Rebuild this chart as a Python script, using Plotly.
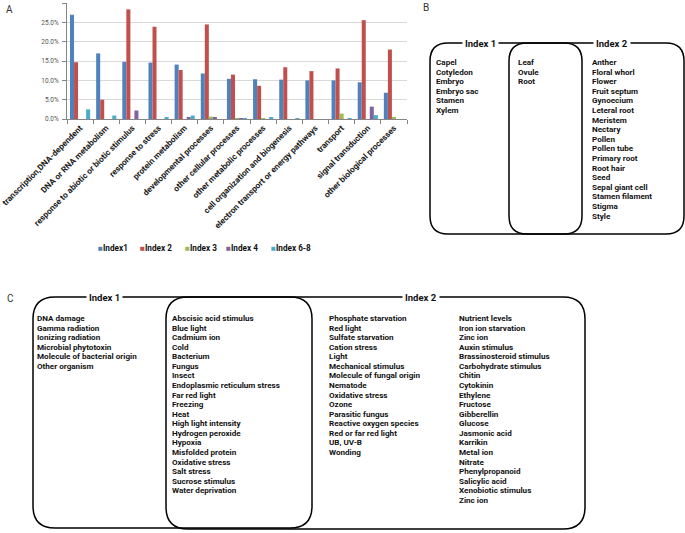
import plotly.graph_objects as go

W, H = 685, 533

categories = ["transcription,DNA-dependent", "DNA or RNA metabolism",
              "response to abiotic or biotic stimulus", "response to stress",
              "protein metabolism", "developmental processes", "other cellular processes",
              "other metabolic processes", "cell organization and biogenesis",
              "electron transport or energy pathways", "transport", "signal transduction",
              "other biological processes"]
series_names = ["Index1", "Index 2", "Index 3", "Index 4", "Index 6-8"]
index1 = [27.0, 17.0, 14.8, 14.6, 14.1, 11.8, 10.4, 10.3, 10.2, 10.0, 10.0, 9.5, 6.8]
index2 = [14.7, 5.0, 28.4, 23.9, 12.7, 24.5, 11.5, 8.6, 13.4, 12.4, 13.1, 25.6, 18.0]
index3 = [0.0, 0.0, 0.0, 0.0, 0.0, 0.6, 0.2, 0.2, 0.0, 0.0, 1.4, 0.0, 0.3]
index4 = [0.0, 0.0, 2.2, 0.0, 0.4, 0.3, 0.1, 0.0, 0.0, 0.0, 0.0, 3.2, 0.0]
index68 = [2.5, 0.9, 0.0, 0.5, 0.9, 0.0, 0.2, 0.3, 0.2, 0.0, 0.2, 1.0, 0.0]
colors = ["#4F81BD", "#C0504D", "#9BBB59", "#8064A2", "#4BACC6"]

b_index1_only = ["Capel", "Cotyledon", "Embryo", "Embryo sac", "Stamen", "Xylem"]
b_both = ["Leaf", "Ovule", "Root"]
b_index2_only = ["Anther", "Floral whorl", "Flower", "Fruit septum", "Gynoecium", "Leteral root",
                 "Meristem", "Nectary", "Pollen", "Pollen tube", "Primary root", "Root hair",
                 "Seed", "Sepal giant cell", "Stamen filament", "Stigma", "Style"]

c_index1_only = ["DNA damage", "Gamma radiation", "Ionizing radiation", "Microbial phytotoxin",
                 "Molecule of bacterial origin", "Other organism"]
c_both = ["Abscisic acid stimulus", "Blue light", "Cadmium ion", "Cold", "Bacterium", "Fungus",
          "Insect", "Endoplasmic reticulum stress", "Far red light", "Freezing", "Heat",
          "High light intensity", "Hydrogen peroxide", "Hypoxia", "Misfolded protein",
          "Oxidative stress", "Salt stress", "Sucrose stimulus", "Water deprivation"]
c_index2_a = ["Phosphate starvation", "Red light", "Sulfate starvation", "Cation stress", "Light",
              "Mechanical stimulus", "Molecule of fungal origin", "Nematode", "Oxidative stress",
              "Ozone", "Parasitic fungus", "Reactive oxygen species", "Red or far red light",
              "UB, UV-B", "Wonding"]
c_index2_b = ["Nutrient levels", "Iron ion starvation", "Zinc ion", "Auxin stimulus",
              "Brassinosteroid stimulus", "Carbohydrate stimulus", "Chitin", "Cytokinin",
              "Ethylene", "Fructose", "Gibberellin", "Glucose", "Jasmonic acid", "Karrikin",
              "Metal ion", "Nitrate", "Phenylpropanoid", "Salicylic acid", "Xenobiotic stimulus",
              "Zinc ion"]

FONT = "Roboto"


def px(x):
    return x / W


def py(y):
    return 1 - y / H


fig = go.Figure()
for name, vals, col in zip(series_names, [index1, index2, index3, index4, index68], colors):
    fig.add_trace(go.Bar(x=categories, y=vals, name=name, marker_color=col,
                         marker_line_width=0, showlegend=False))


def rrect(x0, y0, x1, y1, r):
    pts = [
        f"M{px(x0 + r)},{py(y0)}",
        f"L{px(x1 - r)},{py(y0)}",
        f"Q{px(x1)},{py(y0)} {px(x1)},{py(y0 + r)}",
        f"L{px(x1)},{py(y1 - r)}",
        f"Q{px(x1)},{py(y1)} {px(x1 - r)},{py(y1)}",
        f"L{px(x0 + r)},{py(y1)}",
        f"Q{px(x0)},{py(y1)} {px(x0)},{py(y1 - r)}",
        f"L{px(x0)},{py(y0 + r)}",
        f"Q{px(x0)},{py(y0)} {px(x0 + r)},{py(y0)}",
        "Z",
    ]
    return dict(type="path", xref="paper", yref="paper", path=" ".join(pts),
                line=dict(color="black", width=1.5), fillcolor="rgba(0,0,0,0)", layer="above")


shapes = [
    rrect(430, 43, 582, 234, 18),
    rrect(509, 43, 684, 234, 18),
    rrect(33, 297, 312, 528, 22),
    rrect(166, 297, 585, 529, 22),
]

ann = []


def txt(x, y, s, size=8.1, weight=700, xanchor="left", color="#111", bg=None):
    d = dict(x=px(x), y=py(y), xref="paper", yref="paper", text=s, showarrow=False,
             xanchor=xanchor, yanchor="middle", align="left", borderpad=0,
             font=dict(family=FONT, size=size, color=color, weight=weight))
    if bg:
        d["bgcolor"] = bg
        d["borderpad"] = 2
    ann.append(d)


def column(x, y0, step, items):
    for i, s in enumerate(items):
        txt(x, y0 + i * step, s)


# panel letters
txt(5, 9, "A", size=10, weight=400, color="#333")
txt(422, 8, "B", size=10, weight=400, color="#333")
txt(6, 298, "C", size=10, weight=400, color="#333")

# legend
legend_x = [97, 139, 184, 225, 270]
for lx, name, col in zip(legend_x, series_names, colors):
    txt(lx, 248, f"<span style='color:{col}'>■</span>{name}", size=8.2)

# panel B
txt(480, 43, "Index 1", size=9.5, weight=700, xanchor="center", bg="white")
txt(612, 43, "Index 2", size=9.5, weight=700, xanchor="center", bg="white")
column(435, 62, 9.6, b_index1_only)
column(517, 62, 9.6, b_both)
column(591, 62, 9.6, b_index2_only)

# panel C
txt(104, 297, "Index 1", size=9.5, weight=700, xanchor="center", bg="white")
txt(421, 297, "Index 2", size=9.5, weight=700, xanchor="center", bg="white")
column(36, 318, 9.57, c_index1_only)
column(171, 318, 9.57, c_both)
column(328, 318, 9.57, c_index2_a)
column(458, 318, 9.57, c_index2_b)

fig.update_layout(
    width=W, height=H, autosize=False,
    margin=dict(l=0, r=0, t=0, b=0),
    paper_bgcolor="white", plot_bgcolor="white",
    barmode="group", bargap=0.23, bargroupgap=0,
    font=dict(family=FONT, color="#222"),
    shapes=shapes, annotations=ann,
    showlegend=False,
    xaxis=dict(domain=[px(67), px(407)], tickangle=-45, automargin=False,
               showline=True, linecolor="#868686", linewidth=1,
               ticks="outside", tickson="boundaries", ticklen=4, tickcolor="#868686",
               tickfont=dict(family=FONT, size=8.3, color="#222", weight=700),
               showgrid=False),
    yaxis=dict(domain=[py(119), py(3)], range=[0, 30.05], dtick=5, automargin=False,
               ticksuffix="%", tickformat=".1f",
               showline=True, linecolor="#868686", linewidth=1,
               ticks="outside", ticklen=4, tickcolor="#868686", ticklabelstandoff=2,
               tickfont=dict(family=FONT, size=6.5, color="#555"),
               showgrid=True, gridcolor="#D9D9D9", gridwidth=1, zeroline=False),
)

fig.write_html("out.html", config={"responsive": False, "displayModeBar": False},
               post_script="document.body.style.margin='0';document.body.style.overflow='hidden';")
